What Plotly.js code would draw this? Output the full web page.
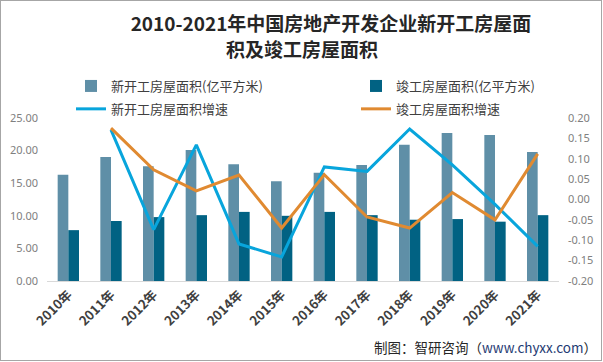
<!DOCTYPE html>
<html>
<head>
<meta charset="utf-8">
<script src="https://cdn.plot.ly/plotly-3.0.1.min.js"></script>
<style>
  html, body { margin: 0; padding: 0; background: #fff; }
  #wrap { position: relative; width: 603px; height: 362px; }
  #chart { position: absolute; left: 0; top: 0; width: 603px; height: 362px; }
  #frame { position: absolute; left: 0; top: 0; width: 600px; height: 359px; border: 1.5px solid #a6a6a6; pointer-events: none; }
</style>
</head>
<body>
<div id="wrap"><div id="chart"></div><div id="frame"></div></div>
<script>
// ---- data ----
const years = ['2010年','2011年','2012年','2013年','2014年','2015年','2016年','2017年','2018年','2019年','2020年','2021年'];
const newStartArea = [16.3, 19.0, 17.6, 20.1, 17.9, 15.3, 16.6, 17.8, 20.9, 22.7, 22.4, 19.8];
const completedArea = [7.8, 9.2, 9.8, 10.1, 10.6, 10.0, 10.6, 10.1, 9.4, 9.5, 9.1, 10.1];
const newStartGrowth = [null, 0.171, -0.074, 0.134, -0.109, -0.141, 0.080, 0.069, 0.173, 0.085, -0.012, -0.115];
const completedGrowth = [null, 0.175, 0.073, 0.021, 0.060, -0.070, 0.061, -0.043, -0.070, 0.017, -0.050, 0.112];
const leftTickVals = [0, 5, 10, 15, 20, 25];
const rightTickVals = [-0.20, -0.15, -0.10, -0.05, 0.00, 0.05, 0.10, 0.15, 0.20];
const rightTickText = ['-0.20','-0.15','-0.10','-0.05','0.00','0.05','0.10','0.15','0.20'];

const names = ['新开工房屋面积(亿平方米)', '竣工房屋面积(亿平方米)', '新开工房屋面积增速', '竣工房屋面积增速'];
const titleLine1 = '2010-2021年中国房地产开发企业新开工房屋面';
const titleLine2 = '积及竣工房屋面积';
const sourceText = '制图：智研咨询（<span style="color:#1f3b73">www.chyxx.com</span>）';

// ---- geometry helpers (pixels -> paper) ----
const W = 603, H = 362;
const M = { l: 47, r: 44, t: 118, b: 81 };
const PW = W - M.l - M.r, PH = H - M.t - M.b;
const px = x => (x - M.l) / PW;
const py = y => (H - M.b - y) / PH;

const FONT = '"Noto Sans CJK SC", "Noto Sans", sans-serif';

const traces = [
  { type: 'bar', name: names[0], x: years, y: newStartArea, yaxis: 'y',
    marker: { color: '#5f8fa7' }, legend: 'legend', legendgroup: 'a', hoverinfo: 'y' },
  { type: 'bar', name: names[1], x: years, y: completedArea, yaxis: 'y',
    marker: { color: '#016283' }, legend: 'legend2', legendgroup: 'b', hoverinfo: 'y' },
  { type: 'scatter', mode: 'lines', name: names[2], x: years, y: newStartGrowth, yaxis: 'y2',
    line: { color: '#08a5dc', width: 3 }, legend: 'legend', legendgroup: 'c', connectgaps: false },
  { type: 'scatter', mode: 'lines', name: names[3], x: years, y: completedGrowth, yaxis: 'y2',
    line: { color: '#e08a31', width: 3 }, legend: 'legend2', legendgroup: 'd', connectgaps: false }
];

const legendCommon = {
  orientation: 'v', yanchor: 'top', xanchor: 'left',
  bgcolor: 'rgba(0,0,0,0)', borderwidth: 0, tracegroupgap: 3,
  font: { family: FONT, size: 13, color: '#404040' }
};

const layout = {
  width: W, height: H,
  margin: M,
  paper_bgcolor: '#ffffff', plot_bgcolor: '#ffffff',
  font: { family: FONT, color: '#404040' },
  title: {
    text: titleLine1, x: 331 / W, xanchor: 'center', xref: 'container',
    y: 1 - 24 / H, yanchor: 'middle', yref: 'container',
    font: { family: FONT, size: 19, weight: 'bold', color: '#262626' }
  },
  barmode: 'group', bargap: 0.5, bargroupgap: 0,
  showlegend: true,
  legend: Object.assign({ x: px(71), y: py(71) }, legendCommon),
  legend2: Object.assign({ x: px(356), y: py(71) }, legendCommon),
  xaxis: {
    type: 'category', showgrid: false, zeroline: false,
    showline: true, linecolor: '#d9d9d9', linewidth: 1,
    ticks: '', tickangle: -45,
    tickfont: { family: FONT, size: 13, weight: 'bold', color: '#404040' }
  },
  yaxis: {
    range: [0, 25], tickvals: leftTickVals, tickformat: '.2f',
    showgrid: false, zeroline: false, showline: false, ticks: '',
    ticklabelstandoff: 8,
    tickfont: { family: '"Noto Sans", sans-serif', size: 11, color: '#808080' }
  },
  yaxis2: {
    range: [-0.2, 0.2], overlaying: 'y', side: 'right',
    tickvals: rightTickVals, ticktext: rightTickText,
    showgrid: false, zeroline: false, showline: false, ticks: '',
    ticklabelstandoff: 8,
    tickfont: { family: '"Noto Sans", sans-serif', size: 11, color: '#808080' }
  },
  annotations: [
    { text: titleLine2, xref: 'paper', yref: 'paper', x: px(302), y: py(48),
      xanchor: 'center', yanchor: 'middle', showarrow: false,
      font: { family: FONT, size: 19, weight: 'bold', color: '#262626' } },
    { text: sourceText, xref: 'paper', yref: 'paper', x: px(599), y: py(347),
      xanchor: 'right', yanchor: 'middle', showarrow: false,
      font: { family: FONT, size: 13.5, color: '#262626' } }
  ]
};

Plotly.newPlot('chart', traces, layout, { displayModeBar: false, responsive: false });
</script>
</body>
</html>
